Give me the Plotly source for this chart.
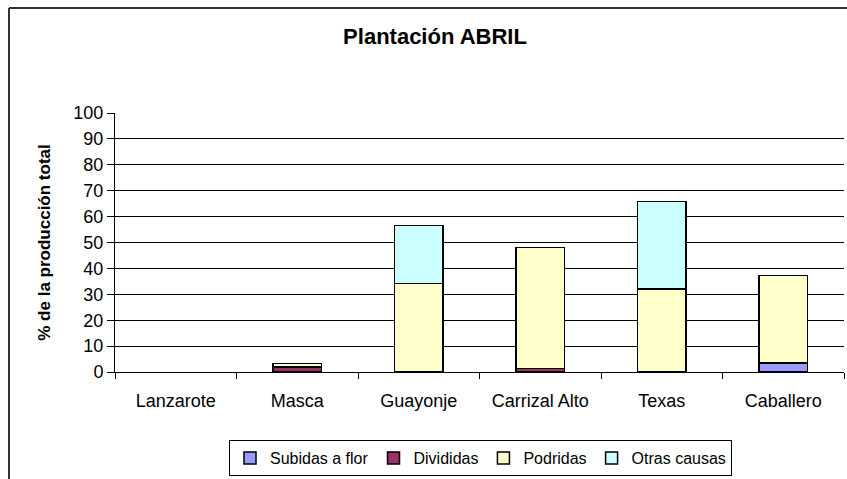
import plotly.graph_objects as go

# categories and stacked values (% of total production)
sitios = ["Lanzarote", "Masca", "Guayonje", "Carrizal Alto", "Texas", "Caballero"]
subidas_flor = [0, 0, 0, 0, 0, 3.4]
divididas = [0, 2.0, 0, 1.3, 0, 0]
podridas = [0, 1.3, 34.2, 46.8, 32.0, 33.8]
otras_causas = [0, 0, 22.4, 0, 33.8, 0]

series = [
    ("Subidas a flor", subidas_flor, "#9999FF"),
    ("Divididas", divididas, "#993366"),
    ("Podridas", podridas, "#FFFFCC"),
    ("Otras causas", otras_causas, "#CCFFFF"),
]

W, H = 847, 479
ML, MR, MT, MB = 115, 3, 113, 107
pw, ph = W - ML - MR, H - MT - MB

fig = go.Figure()
for name, vals, col in series:
    # zero segments are not drawn (no outline at the baseline)
    fig.add_trace(go.Bar(
        x=sitios, y=[v if v else None for v in vals], name=name,
        marker=dict(color=col, line=dict(color="black", width=1.5)),
    ))

# pixel -> paper helpers
def px_x(p):
    return (p - ML) / pw

def px_y(p):
    return (H - MB - p) / ph

# outer chart frame (only left and top edges visible in the picture)
fig.add_shape(type="line", xref="paper", yref="paper",
              x0=px_x(9), x1=px_x(W + 5), y0=px_y(8), y1=px_y(8),
              line=dict(color="#333333", width=2))
fig.add_shape(type="line", xref="paper", yref="paper",
              x0=px_x(9), x1=px_x(9), y0=px_y(8), y1=px_y(H + 5),
              line=dict(color="#333333", width=2))

fig.update_layout(
    width=W, height=H,
    barmode="stack", bargap=0.6,
    paper_bgcolor="white", plot_bgcolor="white",
    margin=dict(l=ML, r=MR, t=MT, b=MB),
    font=dict(family="Liberation Sans, Arial, sans-serif", size=17, color="black"),
    title=dict(text="<b>Plantación ABRIL</b>", xref="container", x=435 / W,
               xanchor="center", yref="container", y=1 - 36 / H,
               yanchor="middle", font=dict(size=22)),
    showlegend=True,
    legend=dict(orientation="h", x=px_x(229), xanchor="left",
                y=px_y(440), yanchor="top", traceorder="normal",
                bordercolor="black", borderwidth=1,
                font=dict(size=16), itemwidth=30),
    xaxis=dict(showline=True, linecolor="black", linewidth=1,
               ticks="outside", ticklen=6, tickcolor="black",
               tickson="boundaries", showgrid=False,
               ticklabelstandoff=12, tickfont=dict(size=18)),
    yaxis=dict(range=[0, 100], dtick=10, showline=True, linecolor="black",
               linewidth=1, ticks="outside", ticklen=7, tickcolor="black",
               showgrid=True, gridcolor="black", gridwidth=1, zeroline=False,
               tickfont=dict(size=18),
               title=dict(text="<b>% de la producción total</b>",
                          font=dict(size=17), standoff=18)),
)

# the page's default body margin would shift everything by 8px
fig.write_html("out.html", config={"displayModeBar": False},
               post_script="document.body.style.margin='0px';")
